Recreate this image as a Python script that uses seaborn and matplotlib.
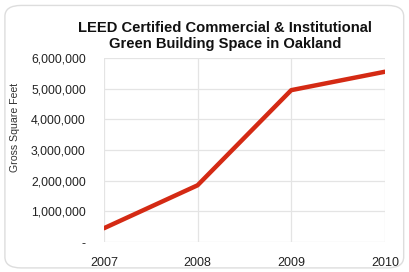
import matplotlib
matplotlib.use("Agg")
import matplotlib.pyplot as plt
import seaborn as sns
import pandas as pd
from matplotlib.patches import FancyBboxPatch
from matplotlib.ticker import FuncFormatter

years = [2007, 2008, 2009, 2010]
space = [450000, 1850000, 4950000, 5550000]
title = "LEED Certified Commercial & Institutional\nGreen Building Space in Oakland"
ylabel = "Gross Square Feet"

sns.set_theme(style="white")
plt.rcParams['font.family'] = ['Liberation Sans', 'DejaVu Sans']

df = pd.DataFrame({"year": years, "space": space})
fig = plt.figure(figsize=(4.09, 2.72), dpi=100)
ax = fig.add_axes([0.254, 0.110, 0.687, 0.677])
sns.lineplot(data=df, x="year", y="space", ax=ax, color="#d42a14", linewidth=3.2)

ax.set_xlim(2007, 2010)
ax.set_ylim(0, 6000000)
ax.set_xticks(years)
ax.set_yticks(range(0, 6000001, 1000000))
ax.yaxis.set_major_formatter(FuncFormatter(lambda v, p: "-" if v == 0 else f"{int(v):,}"))
ax.grid(True, color="#e4e4e4", linewidth=0.9)
for s in ax.spines.values():
    s.set_visible(False)
ax.tick_params(axis="y", labelsize=8.8, pad=13, colors="#222222", length=0)
ax.tick_params(axis="x", labelsize=9, pad=11, colors="#222222", length=0)
ax.set_xlabel("")
ax.set_ylabel(ylabel, fontsize=7.6, color="#333333", va="center")
ax.yaxis.set_label_coords(-0.318, 0.62)
ax.set_title(title, fontsize=10.6, fontweight="bold", color="#111111", pad=7, x=0.43)

box = FancyBboxPatch((0.012, 0.015), 0.975, 0.965, boxstyle="round,pad=0,rounding_size=0.04",
                     transform=fig.transFigure, facecolor="none", edgecolor="#dddddd", linewidth=1.0)
fig.patches.append(box)

fig.savefig("out.png", dpi=100)
